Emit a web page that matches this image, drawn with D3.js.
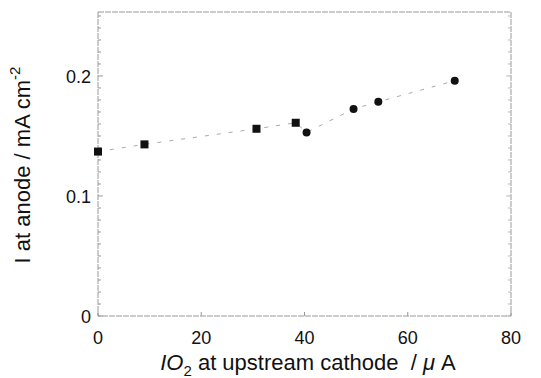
<!DOCTYPE html>
<html>
<head>
<meta charset="utf-8">
<script src="https://cdn.jsdelivr.net/npm/d3@7"></script>
<style>
  body { margin: 0; background: #fff; }
  svg { display: block; }
  text { font-family: Arial, "Liberation Sans", sans-serif; fill: #111; }
</style>
</head>
<body>
<svg id="chart" width="541" height="378"></svg>
<script>
// data
var xTicks = [0, 20, 40, 60, 80];
var yTicks = [0, 0.1, 0.2];
// squares and circles, in measurement order (joined by the dashed line)
var squareX = [0, 9, 30.7, 38.3];
var squareY = [0.137, 0.143, 0.156, 0.161];
var circleX = [40.4, 49.5, 54.3, 69.1];
var circleY = [0.153, 0.1725, 0.1785, 0.196];

var svg = d3.select("#chart");
var mLeft = 98, mRight = 511, mTop = 12, mBottom = 316;

var xScale = d3.scaleLinear().domain([0, 80]).range([mLeft, mRight]);
var yScale = d3.scaleLinear().domain([0, 0.2533]).range([mBottom, mTop]);

var frameColor = "#999";

// frame, drawn a bit rough like the scan
svg.append("rect")
  .attr("x", mLeft)
  .attr("y", mTop)
  .attr("width", mRight - mLeft)
  .attr("height", mBottom - mTop)
  .attr("fill", "none")
  .attr("stroke", frameColor)
  .attr("stroke-width", 1)
  .attr("stroke-dasharray", "6,1");

// minor ticks on left and right sides, every 0.01
var minor = d3.range(0, 0.251, 0.01);
minor.forEach(function (v) {
  var major = yTicks.some(function (t) { return Math.abs(t - v) < 1e-6; });
  var len = major ? 5 : 3;
  svg.append("line")
    .attr("x1", mLeft).attr("x2", mLeft + len)
    .attr("y1", yScale(v)).attr("y2", yScale(v))
    .attr("stroke", frameColor).attr("stroke-width", 1);
  svg.append("line")
    .attr("x1", mRight).attr("x2", mRight - len)
    .attr("y1", yScale(v)).attr("y2", yScale(v))
    .attr("stroke", "#bbb").attr("stroke-width", 1);
});

// x ticks, pointing inside
xTicks.forEach(function (v) {
  svg.append("line")
    .attr("x1", xScale(v)).attr("x2", xScale(v))
    .attr("y1", mBottom).attr("y2", mBottom - 4)
    .attr("stroke", frameColor).attr("stroke-width", 1);
});

// tick labels
svg.selectAll(".xlab")
  .data(xTicks)
  .enter()
  .append("text")
  .attr("class", "xlab")
  .attr("x", function (d) { return xScale(d); })
  .attr("y", 344)
  .attr("text-anchor", "middle")
  .attr("font-size", "18px")
  .text(function (d) { return d; });

svg.selectAll(".ylab")
  .data(yTicks)
  .enter()
  .append("text")
  .attr("class", "ylab")
  .attr("x", 91)
  .attr("y", function (d) { return yScale(d) + 7; })
  .attr("text-anchor", "end")
  .attr("font-size", "18px")
  .text(function (d) { return d === 0 ? "0" : d3.format(".1f")(d); });

// dashed line joining all points in order
var allPts = squareX.map(function (x, i) { return [x, squareY[i]]; })
  .concat(circleX.map(function (x, i) { return [x, circleY[i]]; }));

var line = d3.line()
  .x(function (d) { return xScale(d[0]); })
  .y(function (d) { return yScale(d[1]); });

svg.append("path")
  .attr("d", line(allPts))
  .attr("fill", "none")
  .attr("stroke", "#aaa")
  .attr("stroke-width", 1)
  .attr("stroke-dasharray", "4,8");

// markers
var sq = 8;
svg.selectAll(".sq")
  .data(squareX)
  .enter()
  .append("rect")
  .attr("class", "sq")
  .attr("x", function (d) { return xScale(d) - sq / 2; })
  .attr("y", function (d, i) { return yScale(squareY[i]) - sq / 2; })
  .attr("width", sq)
  .attr("height", sq)
  .attr("fill", "#111");

svg.selectAll(".ci")
  .data(circleX)
  .enter()
  .append("circle")
  .attr("class", "ci")
  .attr("cx", function (d) { return xScale(d); })
  .attr("cy", function (d, i) { return yScale(circleY[i]); })
  .attr("r", 4)
  .attr("fill", "#111");

// axis titles
var yt = svg.append("text")
  .attr("transform", "translate(30,165) rotate(-90)")
  .attr("text-anchor", "middle")
  .attr("font-size", "22px");
yt.append("tspan").text("I at anode / mA cm");
yt.append("tspan").attr("dy", -10).attr("font-size", "15px").text("-2");

var xt = svg.append("text")
  .attr("x", 308)
  .attr("y", 370)
  .attr("text-anchor", "middle")
  .attr("font-size", "22px");
xt.append("tspan").attr("font-style", "italic").text("IO");
xt.append("tspan").attr("dy", 6).attr("font-size", "15px").text("2");
xt.append("tspan").attr("dy", -6).text(" at upstream cathode\u00a0 / ");
xt.append("tspan").attr("font-style", "italic").text("\u03bc");
xt.append("tspan").text(" A");
</script>
</body>
</html>
